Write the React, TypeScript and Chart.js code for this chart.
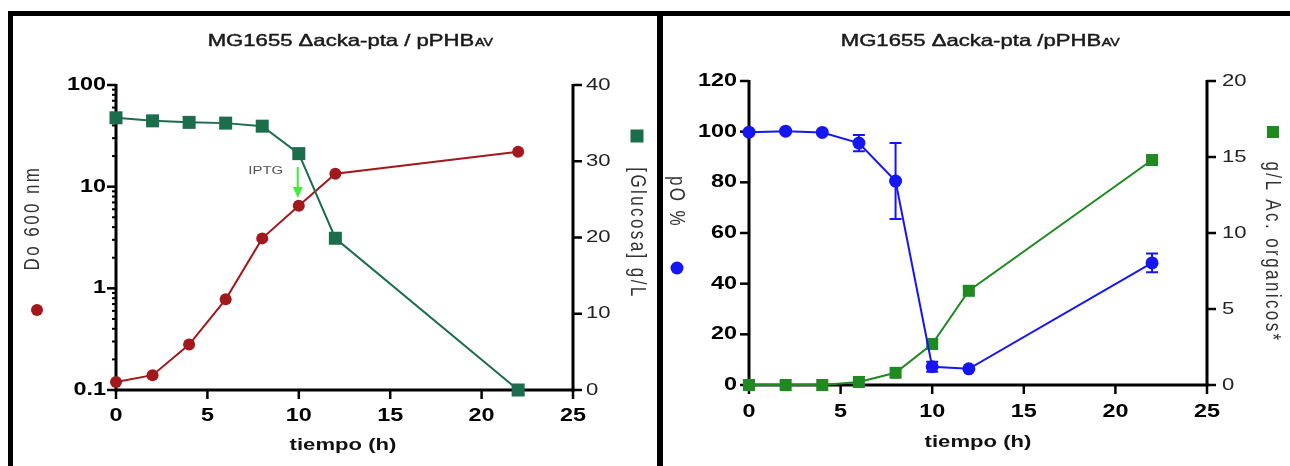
import { useEffect, useRef } from 'react';
import { Chart, registerables } from 'chart.js';

Chart.register(...registerables);

// ---------- data ----------
const time = [0, 2, 4, 6, 8, 10, 12, 22];
// panel 1
const od600 = [0.12, 0.14, 0.28, 0.78, 3.1, 6.5, 13.4, 22];
const glucose = [35.7, 35.3, 35.1, 35.0, 34.6, 31.0, 19.9, 0];
const iptgTime = 10;
// panel 2
const pO2 = [99.8, 100.2, 99.7, 95.5, 80.5, 7.2, 6.4, 48.2];
const pO2Err = [0, 0, 0, 3.2, 15, 2, 0, 3.7];
const acids = [0, 0, 0, 0.2, 0.8, 2.7, 6.2, 14.8];
const acidsErr = [0, 0, 0, 0, 0, 0, 0.3, 0];

// ---------- ticks ----------
const timeTicks = [0, 5, 10, 15, 20, 25];
const timeTickLabels = ['0', '5', '10', '15', '20', '25'];
const odTicks = [0.1, 1, 10, 100];
const odTickLabels = ['0.1', '1', '10', '100'];
const odMinorTicks = [0.2, 0.3, 0.4, 0.5, 0.6, 0.7, 0.8, 0.9, 2, 3, 4, 5, 6, 7, 8, 9, 20, 30, 40, 50, 60, 70, 80, 90];
const glucoseTicks = [0, 10, 20, 30, 40];
const glucoseTickLabels = ['0', '10', '20', '30', '40'];
const pO2Ticks = [0, 20, 40, 60, 80, 100, 120];
const pO2TickLabels = ['0', '20', '40', '60', '80', '100', '120'];
const acidsTicks = [0, 5, 10, 15, 20];
const acidsTickLabels = ['0', '5', '10', '15', '20'];

// ---------- texts ----------
const title1 = 'MG1655 \u0394acka-pta / pPHB';
const title2 = 'MG1655 \u0394acka-pta /pPHB';
const titleSub = 'AV';
const xTitle = 'tiempo (h)';
const odTitle = 'Do 600 nm';
const glucoseTitle = '[Glucosa] g/L';
const pO2Title = 'pO %';
const acidsTitle = 'g/L Ac. organicos*';
const iptgLabel = 'IPTG';

// ---------- style ----------
const FONT = '"Liberation Sans", Arial, Helvetica, sans-serif';
const SX = 1.3;
const RED = '#a3181c';
const TEAL = '#1b6d4c';
const BLUE = '#1616f4';
const GREEN = '#1f8a1f';
const ARROW = '#3cf03c';

type TxtOpt = {
  size: number;
  bold?: boolean;
  color?: string;
  align?: CanvasTextAlign;
  base?: CanvasTextBaseline;
  rot?: number;
  ls?: number;
};

function txt(ctx: CanvasRenderingContext2D, s: string, x: number, y: number, o: TxtOpt) {
  ctx.save();
  ctx.translate(x, y);
  ctx.scale(SX, 1);
  if (o.rot) ctx.rotate(o.rot);
  ctx.font = `${o.bold ? 'bold ' : ''}${o.size}px ${FONT}`;
  ctx.fillStyle = o.color ?? '#000';
  ctx.textAlign = o.align ?? 'center';
  ctx.textBaseline = o.base ?? 'middle';
  (ctx as any).letterSpacing = `${o.ls ?? 0}px`;
  ctx.fillText(s, 0, 0);
  ctx.restore();
}

function drawTitle(ctx: CanvasRenderingContext2D, main: string, sub: string, cx: number, y: number) {
  ctx.save();
  ctx.translate(cx, y);
  ctx.scale(SX, 1);
  ctx.textAlign = 'left';
  ctx.textBaseline = 'alphabetic';
  ctx.fillStyle = '#1a1a1a';
  ctx.strokeStyle = '#1a1a1a';
  ctx.lineWidth = 0.45;
  const big = `17px ${FONT}`;
  const small = `11px ${FONT}`;
  ctx.font = big;
  const w1 = ctx.measureText(main).width;
  ctx.font = small;
  const w2 = ctx.measureText(sub).width;
  const start = -(w1 + w2) / 2;
  ctx.font = big;
  ctx.fillText(main, start, 0);
  ctx.strokeText(main, start, 0);
  ctx.font = small;
  ctx.fillText(sub, start + w1 + 0.5, 0);
  ctx.strokeText(sub, start + w1 + 0.5, 0);
  ctx.restore();
}

type AxisSpec = {
  id: string;
  side: 'left' | 'right' | 'bottom';
  ticks: number[];
  labels: string[];
  minor?: number[];
  bold: boolean;
  size: number;
  color: string;
  gap: number;
};

function drawAxes(chart: any, specs: AxisSpec[]) {
  const ctx: CanvasRenderingContext2D = chart.ctx;
  const a = chart.chartArea;
  ctx.save();
  ctx.strokeStyle = '#000';
  ctx.lineCap = 'butt';
  for (const s of specs) {
    const sc = chart.scales[s.id];
    ctx.lineWidth = 3;
    ctx.beginPath();
    if (s.side === 'left') {
      ctx.moveTo(a.left, a.top - 1);
      ctx.lineTo(a.left, a.bottom + 1.5);
    } else if (s.side === 'right') {
      ctx.moveTo(a.right, a.top - 1);
      ctx.lineTo(a.right, a.bottom + 1.5);
    } else {
      ctx.moveTo(a.left - 1.5, a.bottom);
      ctx.lineTo(a.right + 1.5, a.bottom);
    }
    ctx.stroke();
    ctx.lineWidth = 2.5;
    const drawTick = (v: number, len: number) => {
      const p = sc.getPixelForValue(v);
      ctx.beginPath();
      if (s.side === 'left') {
        ctx.moveTo(a.left, p);
        ctx.lineTo(a.left - len, p);
      } else if (s.side === 'right') {
        ctx.moveTo(a.right, p);
        ctx.lineTo(a.right + len, p);
      } else {
        ctx.moveTo(p, a.bottom);
        ctx.lineTo(p, a.bottom + len);
      }
      ctx.stroke();
    };
    s.ticks.forEach((v) => drawTick(v, 9));
    (s.minor ?? []).forEach((v) => {
      ctx.lineWidth = 2;
      drawTick(v, 4);
    });
    s.ticks.forEach((v, i) => {
      const p = sc.getPixelForValue(v);
      if (s.side === 'left') {
        txt(ctx, s.labels[i], a.left - s.gap, p, { size: s.size, bold: s.bold, color: s.color, align: 'right' });
      } else if (s.side === 'right') {
        txt(ctx, s.labels[i], a.right + s.gap, p, { size: s.size, bold: s.bold, color: s.color, align: 'left' });
      } else {
        txt(ctx, s.labels[i], p, a.bottom + s.gap, { size: s.size, bold: s.bold, color: s.color });
      }
    });
  }
  ctx.restore();
}

function drawErrors(chart: any, yId: string, vals: number[], errs: number[], color: string) {
  const ctx: CanvasRenderingContext2D = chart.ctx;
  const xs = chart.scales.x;
  const ys = chart.scales[yId];
  ctx.save();
  ctx.strokeStyle = color;
  ctx.lineWidth = 2;
  errs.forEach((e, i) => {
    if (!e) return;
    const x = xs.getPixelForValue(time[i]);
    const y1 = ys.getPixelForValue(vals[i] + e);
    const y2 = ys.getPixelForValue(vals[i] - e);
    ctx.beginPath();
    ctx.moveTo(x, y1);
    ctx.lineTo(x, y2);
    ctx.moveTo(x - 6, y1);
    ctx.lineTo(x + 6, y1);
    ctx.moveTo(x - 6, y2);
    ctx.lineTo(x + 6, y2);
    ctx.stroke();
  });
  ctx.restore();
}

function circle(ctx: CanvasRenderingContext2D, x: number, y: number, r: number, c: string) {
  ctx.save();
  ctx.fillStyle = c;
  ctx.beginPath();
  ctx.arc(x, y, r, 0, Math.PI * 2);
  ctx.fill();
  ctx.restore();
}

function square(ctx: CanvasRenderingContext2D, x: number, y: number, s: number, c: string) {
  ctx.save();
  ctx.fillStyle = c;
  ctx.fillRect(x - s / 2, y - s / 2, s, s);
  ctx.restore();
}

const pts = (ys: number[]) => time.map((t, i) => ({ x: t, y: ys[i] }));

const baseOptions = {
  animation: false,
  responsive: false,
  devicePixelRatio: 1,
  events: [],
  plugins: { legend: { display: false }, tooltip: { enabled: false }, title: { display: false } },
  elements: { line: { tension: 0 } },
};

function buildPanel1(): any {
  const decor = {
    id: 'decor1',
    beforeDatasetsDraw(chart: any) {
      drawAxes(chart, [
        { id: 'yOD', side: 'left', ticks: odTicks, labels: odTickLabels, minor: odMinorTicks, bold: true, size: 18, color: '#000', gap: 10 },
        { id: 'yGlc', side: 'right', ticks: glucoseTicks, labels: glucoseTickLabels, bold: false, size: 17, color: '#222', gap: 13 },
        { id: 'x', side: 'bottom', ticks: timeTicks, labels: timeTickLabels, bold: true, size: 18, color: '#000', gap: 26 },
      ]);
    },
    afterDraw(chart: any) {
      const ctx: CanvasRenderingContext2D = chart.ctx;
      drawTitle(ctx, title1, titleSub, 337, 30);
      txt(ctx, xTitle, 330, 429, { size: 17, bold: true, color: '#111' });
      txt(ctx, odTitle, 20, 202, { size: 17, color: '#333', rot: -Math.PI / 2, ls: 2.4 });
      circle(ctx, 24, 294, 6, RED);
      txt(ctx, glucoseTitle, 624, 217, { size: 17, color: '#333', rot: Math.PI / 2, ls: 2.4 });
      square(ctx, 624, 120, 13, TEAL);
      // IPTG annotation
      const ax = chart.scales.x.getPixelForValue(iptgTime) - 1;
      txt(ctx, iptgLabel, ax - 32, 155, { size: 11.5, color: '#555' });
      ctx.save();
      ctx.strokeStyle = ARROW;
      ctx.fillStyle = ARROW;
      ctx.lineWidth = 2;
      ctx.beginPath();
      ctx.moveTo(ax, 151);
      ctx.lineTo(ax, 173);
      ctx.stroke();
      ctx.beginPath();
      ctx.moveTo(ax - 5, 171);
      ctx.lineTo(ax + 5, 171);
      ctx.lineTo(ax, 182);
      ctx.closePath();
      ctx.fill();
      ctx.restore();
    },
  };
  return {
    type: 'line',
    data: {
      datasets: [
        { label: 'Glucosa', data: pts(glucose), yAxisID: 'yGlc', borderColor: TEAL, backgroundColor: TEAL, pointStyle: 'rect', pointRadius: 9.2, pointBorderWidth: 0, borderWidth: 2, clip: false },
        { label: 'Do 600 nm', data: pts(od600), yAxisID: 'yOD', borderColor: RED, backgroundColor: RED, pointStyle: 'circle', pointRadius: 6, pointBorderWidth: 0, borderWidth: 2, clip: false },
      ],
    },
    options: {
      ...baseOptions,
      layout: { padding: { left: 103, right: 84, top: 69, bottom: 76 } },
      scales: {
        x: { type: 'linear', min: 0, max: 25, display: false },
        yOD: { type: 'logarithmic', min: 0.1, max: 100, display: false, position: 'left' },
        yGlc: { type: 'linear', min: 0, max: 40, display: false, position: 'right' },
      },
    },
    plugins: [decor],
  };
}

function buildPanel2(): any {
  const decor = {
    id: 'decor2',
    beforeDatasetsDraw(chart: any) {
      drawAxes(chart, [
        { id: 'yPO', side: 'left', ticks: pO2Ticks, labels: pO2TickLabels, bold: true, size: 18, color: '#000', gap: 12 },
        { id: 'yAc', side: 'right', ticks: acidsTicks, labels: acidsTickLabels, bold: false, size: 17, color: '#222', gap: 15 },
        { id: 'x', side: 'bottom', ticks: timeTicks, labels: timeTickLabels, bold: true, size: 18, color: '#000', gap: 27 },
      ]);
      drawErrors(chart, 'yAc', acids, acidsErr, GREEN);
      drawErrors(chart, 'yPO', pO2, pO2Err, BLUE);
    },
    afterDraw(chart: any) {
      const ctx: CanvasRenderingContext2D = chart.ctx;
      drawTitle(ctx, title2, titleSub, 317, 30);
      txt(ctx, xTitle, 315, 426, { size: 17, bold: true, color: '#111' });
      txt(ctx, pO2Title, 13, 186, { size: 17, color: '#333', rot: Math.PI / 2, ls: 2.4 });
      circle(ctx, 14, 252, 6.5, BLUE);
      txt(ctx, acidsTitle, 609, 236, { size: 17, color: '#333', rot: Math.PI / 2, ls: 2.4 });
      square(ctx, 610, 116, 12, GREEN);
    },
  };
  return {
    type: 'line',
    data: {
      datasets: [
        { label: 'pO %', data: pts(pO2), yAxisID: 'yPO', borderColor: BLUE, backgroundColor: BLUE, pointStyle: 'circle', pointRadius: 6.5, pointBorderWidth: 0, borderWidth: 2, clip: false },
        { label: 'g/L Ac. organicos', data: pts(acids), yAxisID: 'yAc', borderColor: GREEN, backgroundColor: GREEN, pointStyle: 'rect', pointRadius: 8.5, pointBorderWidth: 0, borderWidth: 2, clip: false },
      ],
    },
    options: {
      ...baseOptions,
      layout: { padding: { left: 86, right: 83, top: 65, bottom: 81 } },
      scales: {
        x: { type: 'linear', min: 0, max: 25, display: false },
        yPO: { type: 'linear', min: 0, max: 120, display: false, position: 'left' },
        yAc: { type: 'linear', min: 0, max: 20, display: false, position: 'right' },
      },
    },
    plugins: [decor],
  };
}

function Panel(props: { left: number; top: number; width: number; height: number; build: () => any }) {
  const { left, top, width, height, build } = props;
  const ref = useRef<HTMLCanvasElement>(null);
  useEffect(() => {
    const chart = new Chart(ref.current as HTMLCanvasElement, build());
    return () => chart.destroy();
  }, []);
  return (
    <div style={{ position: 'absolute', left, top, width, height }}>
      <canvas ref={ref} width={width} height={height} style={{ display: 'block', width, height }} />
    </div>
  );
}

export default function App() {
  return (
    <div style={{ position: 'absolute', left: 0, top: 0, width: 1290, height: 466, background: '#fff', overflow: 'hidden' }}>
      <div style={{ position: 'absolute', left: 8, top: 11, width: 1282, height: 5, background: '#000' }} />
      <div style={{ position: 'absolute', left: 8, top: 11, width: 5, height: 455, background: '#000' }} />
      <div style={{ position: 'absolute', left: 657, top: 11, width: 6, height: 455, background: '#000' }} />
      <Panel left={13} top={16} width={644} height={450} build={buildPanel1} />
      <Panel left={663} top={16} width={627} height={450} build={buildPanel2} />
    </div>
  );
}
